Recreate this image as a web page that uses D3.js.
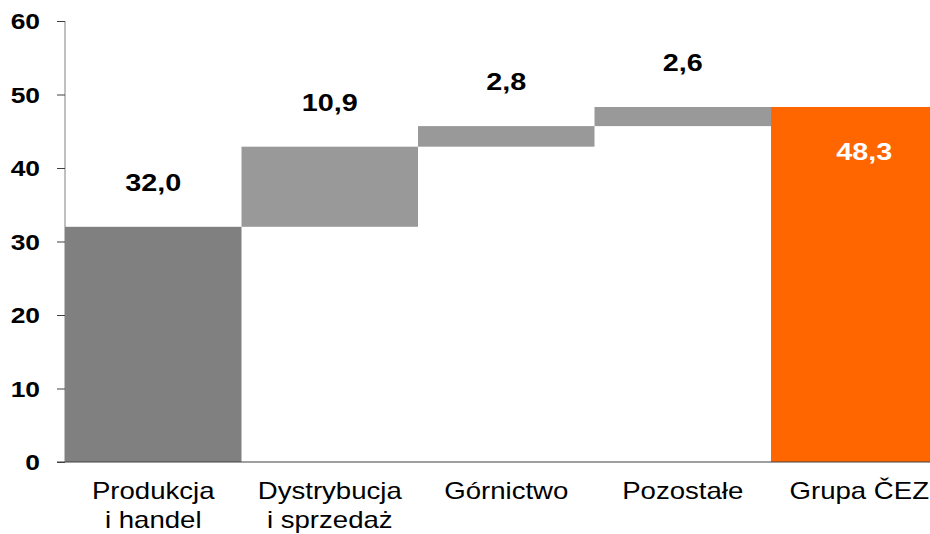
<!DOCTYPE html>
<html>
<head>
<meta charset="utf-8">
<script src="https://cdn.jsdelivr.net/npm/d3@7"></script>
<style>
  body { margin: 0; background: #fff; }
  svg { display: block; font-family: "Liberation Sans", Arial, sans-serif; }
</style>
</head>
<body>
<svg id="viz" width="930" height="534"></svg>
<script>
// categories and values
const categories = [
  ['Produkcja', 'i handel'],
  ['Dystrybucja', 'i sprzedaż'],
  ['Górnictwo'],
  ['Pozostałe'],
  ['Grupa ČEZ'],
];
const values = [32.0, 10.9, 2.8, 2.6, 48.3];
const kinds = ['base', 'step', 'step', 'step', 'total'];
const yTicks = [0, 10, 20, 30, 40, 50, 60];

const colors = { base: '#808080', step: '#999999', total: '#ff6600' };
const stretch = 1.2; // text in the source looks wide

const svg = d3.select('#viz');

const x = d3
  .scaleBand()
  .domain(d3.range(values.length))
  .range([65, 947.5])
  .padding(0);

const y = d3.scaleLinear().domain([0, 60]).range([462, 21]);

// waterfall start/end
let running = 0;
const bars = values.map(function (v, i) {
  let start, end;
  if (kinds[i] === 'total') {
    start = 0;
    end = v;
  } else {
    start = running;
    end = running + v;
    running = end;
  }
  return { i: i, v: v, start: start, end: end, kind: kinds[i] };
});

// bars
svg
  .append('g')
  .selectAll('rect')
  .data(bars)
  .join('rect')
  .attr('x', (d) => x(d.i))
  .attr('width', x.bandwidth())
  .attr('y', (d) => y(d.end))
  .attr('height', (d) => y(d.start) - y(d.end))
  .attr('fill', (d) => colors[d.kind]);

// y axis
const yAxis = svg
  .append('g')
  .attr('transform', 'translate(65,0)')
  .call(d3.axisLeft(y).tickValues(yTicks).tickSize(8).tickSizeOuter(0));
yAxis.select('.domain').attr('stroke', '#808080').attr('d', 'M0,' + y(60) + 'V' + y(0));
yAxis.selectAll('.tick line').attr('stroke', '#404040');
yAxis
  .selectAll('.tick text')
  .attr('x', 0)
  .attr('transform', 'translate(-25,0) scale(' + stretch + ',1)')
  .attr('fill', '#000')
  .attr('font-size', 22)
  .attr('font-weight', 'bold')
  .attr('font-family', '"Liberation Sans", Arial, sans-serif')
  .attr('dy', '0.36em');

// x axis line
svg
  .append('line')
  .attr('x1', 57)
  .attr('x2', 930)
  .attr('y1', y(0))
  .attr('y2', y(0))
  .attr('stroke', '#404040')
  .attr('stroke-width', 1.2);

// value labels
svg
  .append('g')
  .selectAll('text')
  .data(bars)
  .join('text')
  .attr('transform', function (d) {
    const cx = x(d.i) + x.bandwidth() / 2 + (d.kind === 'total' ? 5 : 0);
    const cy = d.kind === 'total' ? y(d.end) + 53 : y(d.end) - 36;
    return 'translate(' + cx + ',' + cy + ') scale(' + stretch + ',1)';
  })
  .attr('text-anchor', 'middle')
  .attr('font-size', 24)
  .attr('font-weight', 'bold')
  .attr('fill', (d) => (d.kind === 'total' ? '#fff' : '#000'))
  .text((d) => d3.format('.1f')(d.v).replace('.', ','));

// category labels
const cat = svg
  .append('g')
  .selectAll('text')
  .data(categories)
  .join('text')
  .attr('transform', (d, i) => 'translate(' + (x(i) + x.bandwidth() / 2) + ',499) scale(' + stretch + ',1)')
  .attr('text-anchor', 'middle')
  .attr('font-size', 23)
  .attr('fill', '#000');
cat
  .selectAll('tspan')
  .data((d) => d)
  .join('tspan')
  .attr('x', 0)
  .attr('dy', (d, j) => (j === 0 ? 0 : 29))
  .text((d) => d);
</script>
</body>
</html>
